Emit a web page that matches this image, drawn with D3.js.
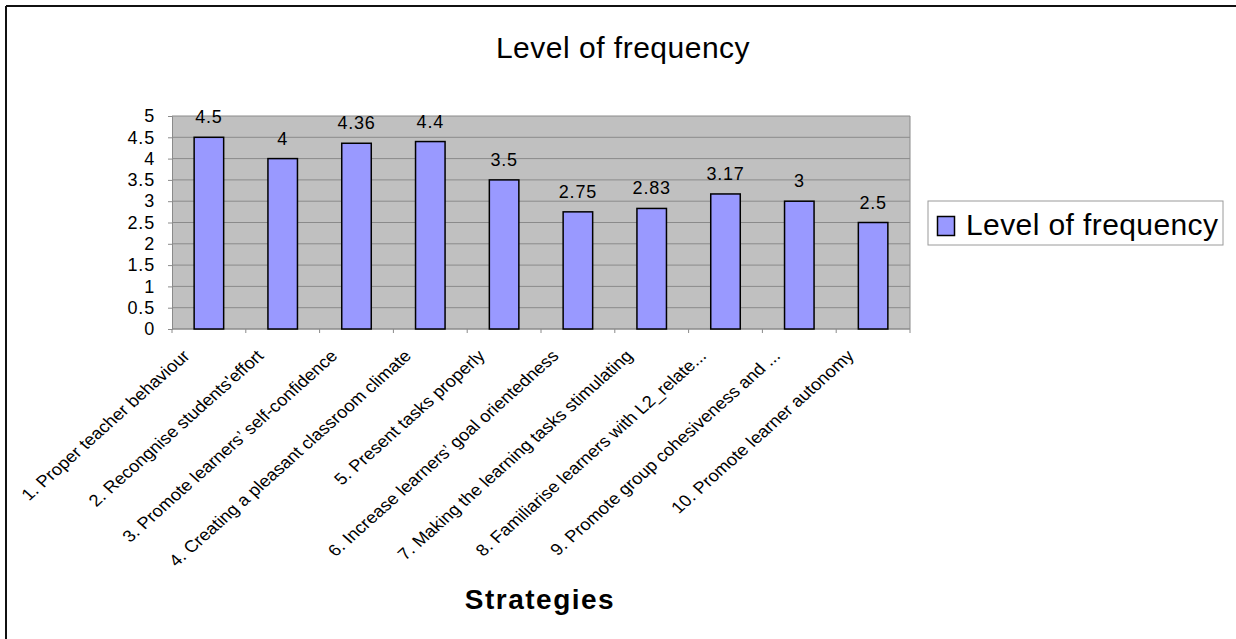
<!DOCTYPE html>
<html>
<head>
<meta charset="utf-8">
<script src="https://d3js.org/d3.v7.min.js"></script>
<style>
  html, body { margin: 0; padding: 0; background: #ffffff; }
  svg { display: block; font-family: "Liberation Sans", Arial, sans-serif; }
</style>
</head>
<body>
<svg id="chart" width="1236" height="639"></svg>
<script>
// Strategy categories (as labelled on the x axis)
const categories = [
  "1. Proper teacher behaviour",
  "2. Recongnise students'effort",
  "3. Promote learners\u2019 self-confidence",
  "4. Creating a pleasant classroom climate",
  "5. Present tasks properly",
  "6. Increase learners\u2019 goal orientedness",
  "7. Making the learning tasks stimulating",
  "8. Familiarise learners with L2_relate...",
  "9. Promote group cohesiveness and ...",
  "10. Promote learner autonomy"
];
// Level of frequency for each strategy
const frequency = [4.5, 4, 4.36, 4.4, 3.5, 2.75, 2.83, 3.17, 3, 2.5];
// Value axis ticks
const yTicks = [0, 0.5, 1, 1.5, 2, 2.5, 3, 3.5, 4, 4.5, 5];

const seriesName = "Level of frequency";
const chartTitle = "Level of frequency";
const xTitle = "Strategies";

const svg = d3.select("#chart");

// Outer frame (top and left edges visible)
svg.append("line").attr("x1", 6).attr("y1", 6).attr("x2", 1236).attr("y2", 6)
  .attr("stroke", "#111").attr("stroke-width", 2);
svg.append("line").attr("x1", 6).attr("y1", 6).attr("x2", 6).attr("y2", 639)
  .attr("stroke", "#111").attr("stroke-width", 2);

const plot = { left: 172, right: 910, top: 116, bottom: 329 };

const x = d3.scaleBand()
  .domain(categories)
  .range([plot.left, plot.right])
  .paddingInner(0.6)
  .paddingOuter(0.3);

const xOuter = d3.scaleBand()
  .domain(categories)
  .range([plot.left, plot.right]);

const y = d3.scaleLinear()
  .domain([0, 5])
  .range([plot.bottom, plot.top]);

// Plot background
svg.append("rect")
  .attr("x", plot.left).attr("y", plot.top)
  .attr("width", plot.right - plot.left).attr("height", plot.bottom - plot.top)
  .attr("fill", "#c0c0c0");

// Horizontal gridlines
svg.append("g")
  .selectAll("line")
  .data(yTicks)
  .join("line")
  .attr("x1", plot.left).attr("x2", plot.right)
  .attr("y1", d => y(d)).attr("y2", d => y(d))
  .attr("stroke", "#8a8a8a").attr("stroke-width", 1);

// Plot border (right side)
svg.append("line")
  .attr("x1", plot.right).attr("x2", plot.right)
  .attr("y1", plot.top).attr("y2", plot.bottom)
  .attr("stroke", "#8a8a8a");

// Y axis
const yAxis = d3.axisLeft(y).tickValues(yTicks).tickSize(4).tickPadding(13)
  .tickFormat(d3.format("~g"));
const gy = svg.append("g")
  .attr("transform", `translate(${plot.left},0)`)
  .call(yAxis);
gy.select(".domain").attr("stroke", "#8a8a8a");
gy.selectAll(".tick line").attr("stroke", "#8a8a8a");
gy.selectAll(".tick text")
  .attr("fill", "#000")
  .style("font-size", "18px")
  .style("letter-spacing", "0.8px")
  .style("font-family", "Liberation Sans, Arial, sans-serif");

// X axis: ticks at category boundaries
const boundaries = categories.map(c => xOuter(c)).concat([plot.right]);
svg.append("line")
  .attr("x1", plot.left).attr("x2", plot.right)
  .attr("y1", plot.bottom).attr("y2", plot.bottom)
  .attr("stroke", "#8a8a8a");
svg.append("g")
  .selectAll("line")
  .data(boundaries)
  .join("line")
  .attr("x1", d => d).attr("x2", d => d)
  .attr("y1", plot.bottom).attr("y2", plot.bottom + 4)
  .attr("stroke", "#8a8a8a");

// Bars
svg.append("g")
  .selectAll("rect")
  .data(frequency)
  .join("rect")
  .attr("x", (d, i) => x(categories[i]))
  .attr("y", d => y(d))
  .attr("width", x.bandwidth())
  .attr("height", d => y(0) - y(d))
  .attr("fill", "#9999ff")
  .attr("stroke", "#000")
  .attr("stroke-width", 1.5);

// Value labels
svg.append("g")
  .selectAll("text")
  .data(frequency)
  .join("text")
  .attr("x", (d, i) => x(categories[i]) + x.bandwidth() / 2)
  .attr("y", d => y(d) - 14)
  .attr("text-anchor", "middle")
  .style("font-size", "18px")
  .style("letter-spacing", "0.8px")
  .text(d => d3.format("~g")(d));

// Category labels, slanted (slightly widened horizontally)
svg.append("g")
  .selectAll("text")
  .data(categories)
  .join("text")
  .attr("transform", d => {
    const cx = xOuter(d) + xOuter.bandwidth() / 2;
    return `translate(${cx - 18},${plot.bottom + 28}) scale(1.12,1) rotate(-45)`;
  })
  .attr("text-anchor", "end")
  .style("font-size", "16.5px")
  .text(d => d);

// Title
svg.append("text")
  .attr("x", 623).attr("y", 58)
  .attr("text-anchor", "middle")
  .style("font-size", "30px")
  .style("letter-spacing", "0.5px")
  .text(chartTitle);

// X axis title
svg.append("text")
  .attr("x", 540).attr("y", 609)
  .attr("text-anchor", "middle")
  .style("font-size", "28px")
  .style("font-weight", "bold")
  .style("letter-spacing", "1.5px")
  .text(xTitle);

// Legend
const legend = svg.append("g");
legend.append("rect")
  .attr("x", 928).attr("y", 201).attr("width", 295).attr("height", 44)
  .attr("fill", "#fff").attr("stroke", "#9a9a9a").attr("stroke-width", 1);
legend.append("rect")
  .attr("x", 937.5).attr("y", 216.5).attr("width", 17).attr("height", 19)
  .attr("fill", "#9999ff").attr("stroke", "#000").attr("stroke-width", 1.5);
legend.append("text")
  .attr("x", 966).attr("y", 235)
  .style("font-size", "30px")
  .style("letter-spacing", "0.4px")
  .text(seriesName);
</script>
</body>
</html>
